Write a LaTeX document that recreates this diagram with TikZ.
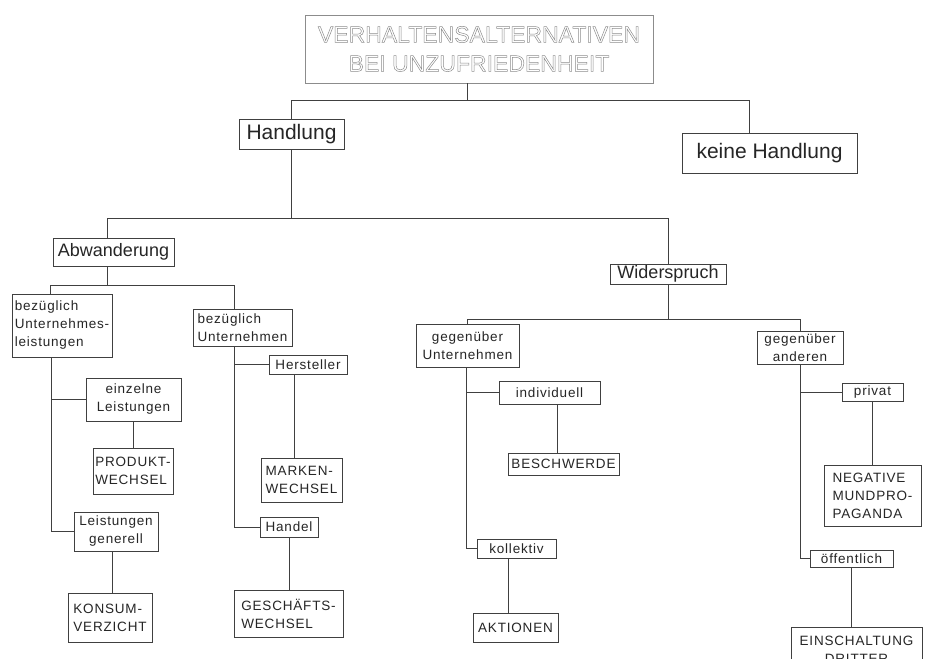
\documentclass[tikz,border=0pt]{standalone}
\usepackage{fontspec}
\setmainfont{Liberation Sans}
\newfontfamily\smallf[LetterSpace=6]{Liberation Sans}
\usetikzlibrary{calc}
\newcommand\outl[1]{\special{pdf:literal 1 Tr 0.5 w}#1\special{pdf:literal 0 Tr}}
\begin{document}
\begin{tikzpicture}[x=1pt,y=-1pt,
 bx/.style={draw=black!75, line width=0.8pt, inner sep=0pt, align=center, text=black!85},
 sm/.style={bx, font=\smallf\fontsize{13.5}{18}\selectfont},
 smL/.style={sm, align=left},
 ln/.style={draw=black!75, line width=0.8pt}]
\useasboundingbox (0,0) rectangle (925,658);
\fill[white] (0,0) rectangle (925,658);
\clip (0,0) rectangle (925,658);

% title
\node[bx, minimum width=348pt, minimum height=68pt, draw=black!45, text=black!45,
      font=\fontsize{23}{29}\selectfont] (title) at (479,49)
      {\outl{VERHALTENSALTERNATIVEN}\\\outl{BEI UNZUFRIEDENHEIT}};

% level 1
\node[bx, minimum width=105pt, minimum height=30pt, font=\fontsize{21}{25}\selectfont] (hand) at (291.5,134) {Handlung};
\node[bx, minimum width=175pt, minimum height=40pt, font=\fontsize{21}{25}\selectfont] (keine) at (769.5,153) {keine Handlung};

% level 2
\node[bx, minimum width=121pt, minimum height=28pt, font=\fontsize{18}{22}\selectfont] (abw) at (113.5,252) {Abwanderung};
\node[bx, minimum width=116pt, minimum height=20pt, font=\fontsize{18}{22}\selectfont] (wid) at (668,274) {Widerspruch};

% Abwanderung subtree
\node[smL, minimum width=100pt, minimum height=63pt] (bul) at (62,325.5) {bezüglich\\Unternehmes-\\leistungen};
\node[smL, minimum width=99pt, minimum height=37pt] (bu) at (242.5,327.5) {bezüglich\\Unternehmen};
\node[sm, minimum width=95pt, minimum height=43pt] (el) at (133.5,399.5) {einzelne\\Leistungen};
\node[smL, minimum width=80pt, minimum height=46pt] (pw) at (133,471) {PRODUKT-\\WECHSEL};
\node[sm, minimum width=84pt, minimum height=39pt] (lg) at (116,531.5) {Leistungen\\generell};
\node[smL, minimum width=84pt, minimum height=49pt] (kv) at (110,617.5) {KONSUM-\\VERZICHT};
\node[sm, minimum width=78pt, minimum height=19pt] (hst) at (308,364.5) {Hersteller};
\node[smL, minimum width=81pt, minimum height=44pt] (mw) at (301.5,480) {MARKEN-\\WECHSEL};
\node[sm, minimum width=58pt, minimum height=20pt] (handel) at (289,527) {Handel};
\node[smL, minimum width=109pt, minimum height=47pt] (gw) at (288.5,613.5) {GESCHÄFTS-\\WECHSEL};

% Widerspruch subtree
\node[sm, minimum width=103pt, minimum height=43pt] (gu) at (467.5,345.5) {gegenüber\\Unternehmen};
\node[sm, minimum width=101pt, minimum height=23pt] (indiv) at (549.5,392.5) {individuell};
\node[sm, minimum width=111pt, minimum height=22pt] (besch) at (563.5,464) {BESCHWERDE};
\node[sm, minimum width=79pt, minimum height=19pt] (koll) at (516.5,548.5) {kollektiv};
\node[sm, minimum width=85pt, minimum height=29pt] (akt) at (515.5,627.5) {AKTIONEN};
\node[sm, minimum width=86pt, minimum height=33pt] (ga) at (800,347.5) {gegenüber\\anderen};
\node[sm, minimum width=61pt, minimum height=18pt] (priv) at (872.5,392) {privat};
\node[smL, minimum width=97pt, minimum height=61pt] (neg) at (872.5,495.5) {NEGATIVE\\MUNDPRO-\\PAGANDA};
\node[sm, minimum width=83pt, minimum height=17pt] (oeff) at (851.5,558.5) {öffentlich};
\node[sm, minimum width=131pt, minimum height=45pt] (ein) at (856.5,649.5) {EINSCHALTUNG\\DRITTER};

% connectors
\draw[ln] ([xshift=-12pt]title.south) -- ++(0,17) coordinate (j0);
\draw[ln] (hand.north) |- (j0) -| ([xshift=-20.5pt]keine.north);

\draw[ln] (hand.south) -- ++(0,69) coordinate (j1);
\draw[ln] ([xshift=-6.5pt]abw.north) |- (j1) -| (wid.north);

\draw[ln] ([xshift=-6.5pt]abw.south) -- ++(0,19) coordinate (j2);
\draw[ln] ([xshift=-12pt]bul.north) |- (j2) -| ([xshift=-8pt]bu.north);

\draw[ln] ([xshift=-11pt]bul.south) |- (lg.west);
\draw[ln] ([xshift=-11pt]bul.south) |- (el.west);
\draw[ln] (el.south) -- (el.south |- pw.north);
\draw[ln] ([xshift=-4pt]lg.south) -- ([xshift=-4pt]lg.south |- kv.north);

\draw[ln] ([xshift=-8pt]bu.south) |- (handel.west);
\draw[ln] ([xshift=-8pt]bu.south) |- (hst.west);
\draw[ln] ([xshift=-14pt]hst.south) -- ([xshift=-14pt]hst.south |- mw.north);
\draw[ln] (handel.south) -- (handel.south |- gw.north);

\draw[ln] (wid.south) -- ++(0,35) coordinate (j3);
\draw[ln] (gu.north) |- (j3) -| (ga.north);
\draw[ln] ([xshift=-1.5pt]gu.south) |- (koll.west);
\draw[ln] ([xshift=-1.5pt]gu.south) |- (indiv.west);
\draw[ln] ([xshift=7.5pt]indiv.south) -- ([xshift=7.5pt]indiv.south |- besch.north);
\draw[ln] ([xshift=-8.5pt]koll.south) -- ([xshift=-8.5pt]koll.south |- akt.north);
\draw[ln] (ga.south) |- (oeff.west);
\draw[ln] (ga.south) |- (priv.west);
\draw[ln] (priv.south) -- (priv.south |- neg.north);
\draw[ln] (oeff.south) -- (oeff.south |- ein.north);
\end{tikzpicture}
\end{document}
